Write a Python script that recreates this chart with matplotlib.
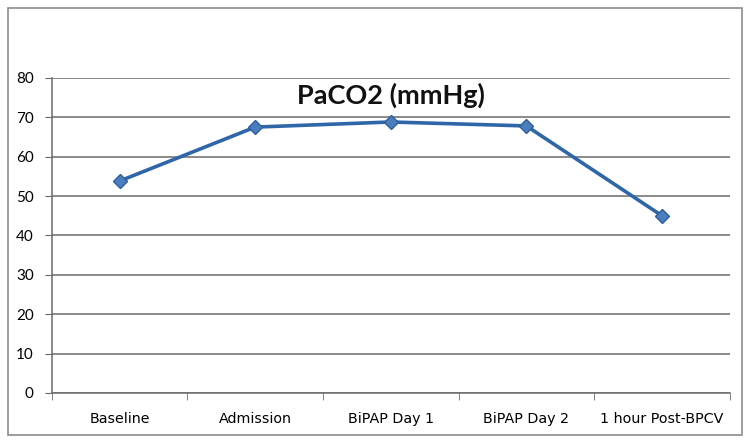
import matplotlib
matplotlib.use("Agg")
from matplotlib import pyplot as plt
from matplotlib.patches import Rectangle
import numpy as np

categories = ["Baseline", "Admission", "BiPAP Day 1", "BiPAP Day 2", "1 hour Post-BPCV"]
paco2 = [53.8, 67.5, 68.8, 67.8, 45.0]
y_ticks = [0, 10, 20, 30, 40, 50, 60, 70, 80]

plt.rcParams['font.family'] = ['Lato', 'DejaVu Sans']

fig = plt.figure(figsize=(7.5, 4.4), dpi=100)
ax = fig.add_axes([0.069, 0.107, 0.904, 0.716])

x = np.arange(len(categories))
ax.plot(x, paco2, color='#2f66a8', linewidth=2.6, marker='D', markersize=7,
        markerfacecolor='#4a7ebf', markeredgecolor='#2f5f9a', zorder=3)

ax.set_xlim(-0.5, len(categories) - 0.5)
ax.set_ylim(0, 80)
ax.set_yticks(y_ticks)
ax.set_yticklabels([str(v) for v in y_ticks], fontsize=11)
ax.yaxis.grid(True, color='#6b6b6b', linewidth=1.1)
ax.set_axisbelow(True)

# category labels centered, ticks on boundaries
ax.set_xticks(x)
ax.set_xticklabels(categories, fontsize=10.3, family=['DejaVu Sans'])
ax.tick_params(axis='x', length=0, pad=14)
ax.set_xticks(np.arange(-0.5, len(categories)), minor=True)
ax.tick_params(axis='x', which='minor', length=5, color='#6b6b6b', direction='out')
ax.tick_params(axis='y', length=5, color='#6b6b6b', pad=8)

for s in ['top', 'right']:
    ax.spines[s].set_visible(False)
ax.spines['left'].set_color('#6b6b6b')
ax.spines['bottom'].set_color('#6b6b6b')
ax.spines['left'].set_linewidth(1.1)
ax.spines['bottom'].set_linewidth(1.1)

ax.text(0.5, 0.945, 'PaCO2 (mmHg)', transform=ax.transAxes, ha='center', va='center',
        fontsize=19.5, fontweight='bold', color='#111111')

# outer chart border
fig.patches.append(Rectangle((0.011, 0.012), 0.978, 0.97, transform=fig.transFigure,
                             fill=False, edgecolor='#8c8c8c', linewidth=1.2))

fig.savefig('out.png', dpi=100)
